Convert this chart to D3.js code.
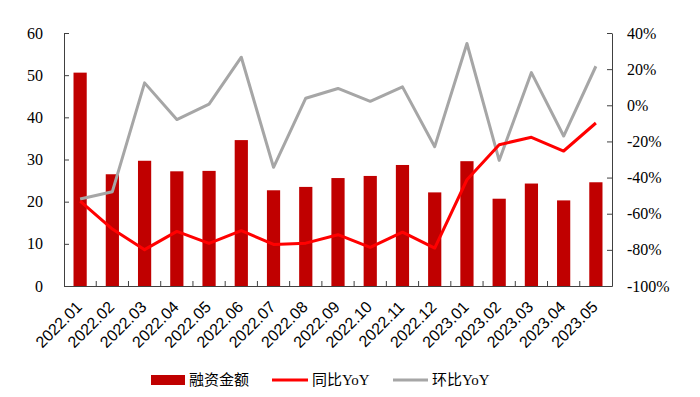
<!DOCTYPE html>
<html>
<head>
<meta charset="utf-8">
<script src="https://cdn.jsdelivr.net/npm/d3@7"></script>
<style>
  body { margin: 0; background: #fff; }
  svg { display: block; font-family: "Liberation Serif", "Noto Sans CJK SC", serif; }
</style>
</head>
<body>
<svg id="chart"></svg>
<script>
// 月份
const months = ["2022.01", "2022.02", "2022.03", "2022.04", "2022.05", "2022.06", "2022.07", "2022.08", "2022.09",
  "2022.10", "2022.11", "2022.12", "2023.01", "2023.02", "2023.03", "2023.04", "2023.05"];
// 融资金额
const amount = [50.6, 26.5, 29.7, 27.2, 27.3, 34.6, 22.7, 23.5, 25.6, 26.1, 28.7, 22.2, 29.6, 20.7, 24.3, 20.3, 24.6];
// 同比 (%)
const yoy = [-53.0, -68.5, -79.9, -69.8, -76.4, -69.4, -77.0, -76.3, -71.6, -78.6, -70.2, -79.0, -41.2, -21.8, -17.7, -25.3, -9.8];
// 环比 (%)
const mom = [-51.9, -47.8, 12.4, -7.9, 0.6, 26.6, -34.3, 3.9, 9.3, 2.2, 10.2, -22.9, 34.2, -30.5, 18.1, -17.0, 21.6];
const leftTicks = [0, 10, 20, 30, 40, 50, 60];
const rightTicks = [-100, -80, -60, -40, -20, 0, 20, 40];
const legendNames = ["融资金额", "同比YoY", "环比YoY"];

const width = 700, height = 397;
const marge = { top: 33, bottom: 111, left: 64, right: 88 };
const innerW = width - marge.left - marge.right;
const innerH = height - marge.top - marge.bottom;

const svg = d3.select("#chart").attr("width", width).attr("height", height);
const g = svg.append("g").attr("transform", `translate(${marge.left},${marge.top})`);

const xScale = d3.scaleBand().domain(months).range([0, innerW]);
const yLeft = d3.scaleLinear().domain([0, 60]).range([innerH, 0]);
const yRight = d3.scaleLinear().domain([-100, 40]).range([innerH, 0]);

const axisColor = "#404040";

// 柱子
const barW = xScale.bandwidth() * 0.41;
g.selectAll("rect.bar")
  .data(amount)
  .enter()
  .append("rect")
  .attr("class", "bar")
  .attr("x", (d, i) => xScale(months[i]) + xScale.bandwidth() / 2 - barW / 2)
  .attr("y", d => yLeft(d))
  .attr("width", barW)
  .attr("height", d => innerH - yLeft(d))
  .attr("fill", "#C00000");

// 折线
const cx = i => xScale(months[i]) + xScale.bandwidth() / 2;
const line = d3.line().x((d, i) => cx(i)).y(d => yRight(d));
g.append("path").datum(mom)
  .attr("d", line).attr("fill", "none")
  .attr("stroke", "#A6A6A6").attr("stroke-width", 3).attr("stroke-linejoin", "round");
g.append("path").datum(yoy)
  .attr("d", line).attr("fill", "none")
  .attr("stroke", "#FF0000").attr("stroke-width", 3).attr("stroke-linejoin", "round");

// 左轴
const gl = g.append("g")
  .call(d3.axisLeft(yLeft).tickValues(leftTicks).tickSize(-5).tickPadding(21).tickSizeOuter(0));
// 右轴
const gr = g.append("g").attr("transform", `translate(${innerW},0)`)
  .call(d3.axisRight(yRight).tickValues(rightTicks).tickFormat(d => d + "%").tickSize(-5).tickPadding(15).tickSizeOuter(0));
// 底轴：刻度在每组边界
const gb = g.append("g").attr("transform", `translate(0,${innerH})`)
  .call(d3.axisBottom(xScale).tickSize(0).tickSizeOuter(0).tickFormat(""));
gb.selectAll("line.bound")
  .data(months.slice(1))
  .enter()
  .append("line")
  .attr("class", "bound")
  .attr("x1", d => xScale(d)).attr("x2", d => xScale(d))
  .attr("y1", 0).attr("y2", -5)
  .attr("stroke", axisColor);

gb.selectAll("text.lab")
  .data(months)
  .enter()
  .append("text")
  .attr("class", "lab")
  .attr("transform", d => `translate(${xScale(d) + xScale.bandwidth() / 2 - 5},${14}) rotate(-45)`)
  .attr("text-anchor", "end")
  .attr("dy", "0.7em")
  .attr("font-size", 16)
  .attr("fill", "#000")
  .text(d => d);

[gl, gr, gb].forEach(a => {
  a.selectAll(".domain").attr("stroke", axisColor);
  a.selectAll(".tick line").attr("stroke", axisColor);
  a.selectAll(".tick text").attr("font-size", 16).attr("font-family", "Liberation Serif").attr("fill", "#000");
});

// 图例
const legendY = 380;
const legend = svg.append("g");
legend.append("rect").attr("x", 151).attr("y", legendY - 5).attr("width", 34).attr("height", 10).attr("fill", "#C00000");
legend.append("line").attr("x1", 272).attr("x2", 308).attr("y1", legendY).attr("y2", legendY)
  .attr("stroke", "#FF0000").attr("stroke-width", 3);
legend.append("line").attr("x1", 393).attr("x2", 428).attr("y1", legendY).attr("y2", legendY)
  .attr("stroke", "#A6A6A6").attr("stroke-width", 3);
legend.selectAll("text")
  .data(legendNames)
  .enter()
  .append("text")
  .attr("x", (d, i) => [189, 312, 432][i])
  .attr("y", legendY)
  .attr("dy", "0.35em")
  .attr("font-size", 15)
  .attr("fill", "#000")
  .text(d => d);
</script>
</body>
</html>
